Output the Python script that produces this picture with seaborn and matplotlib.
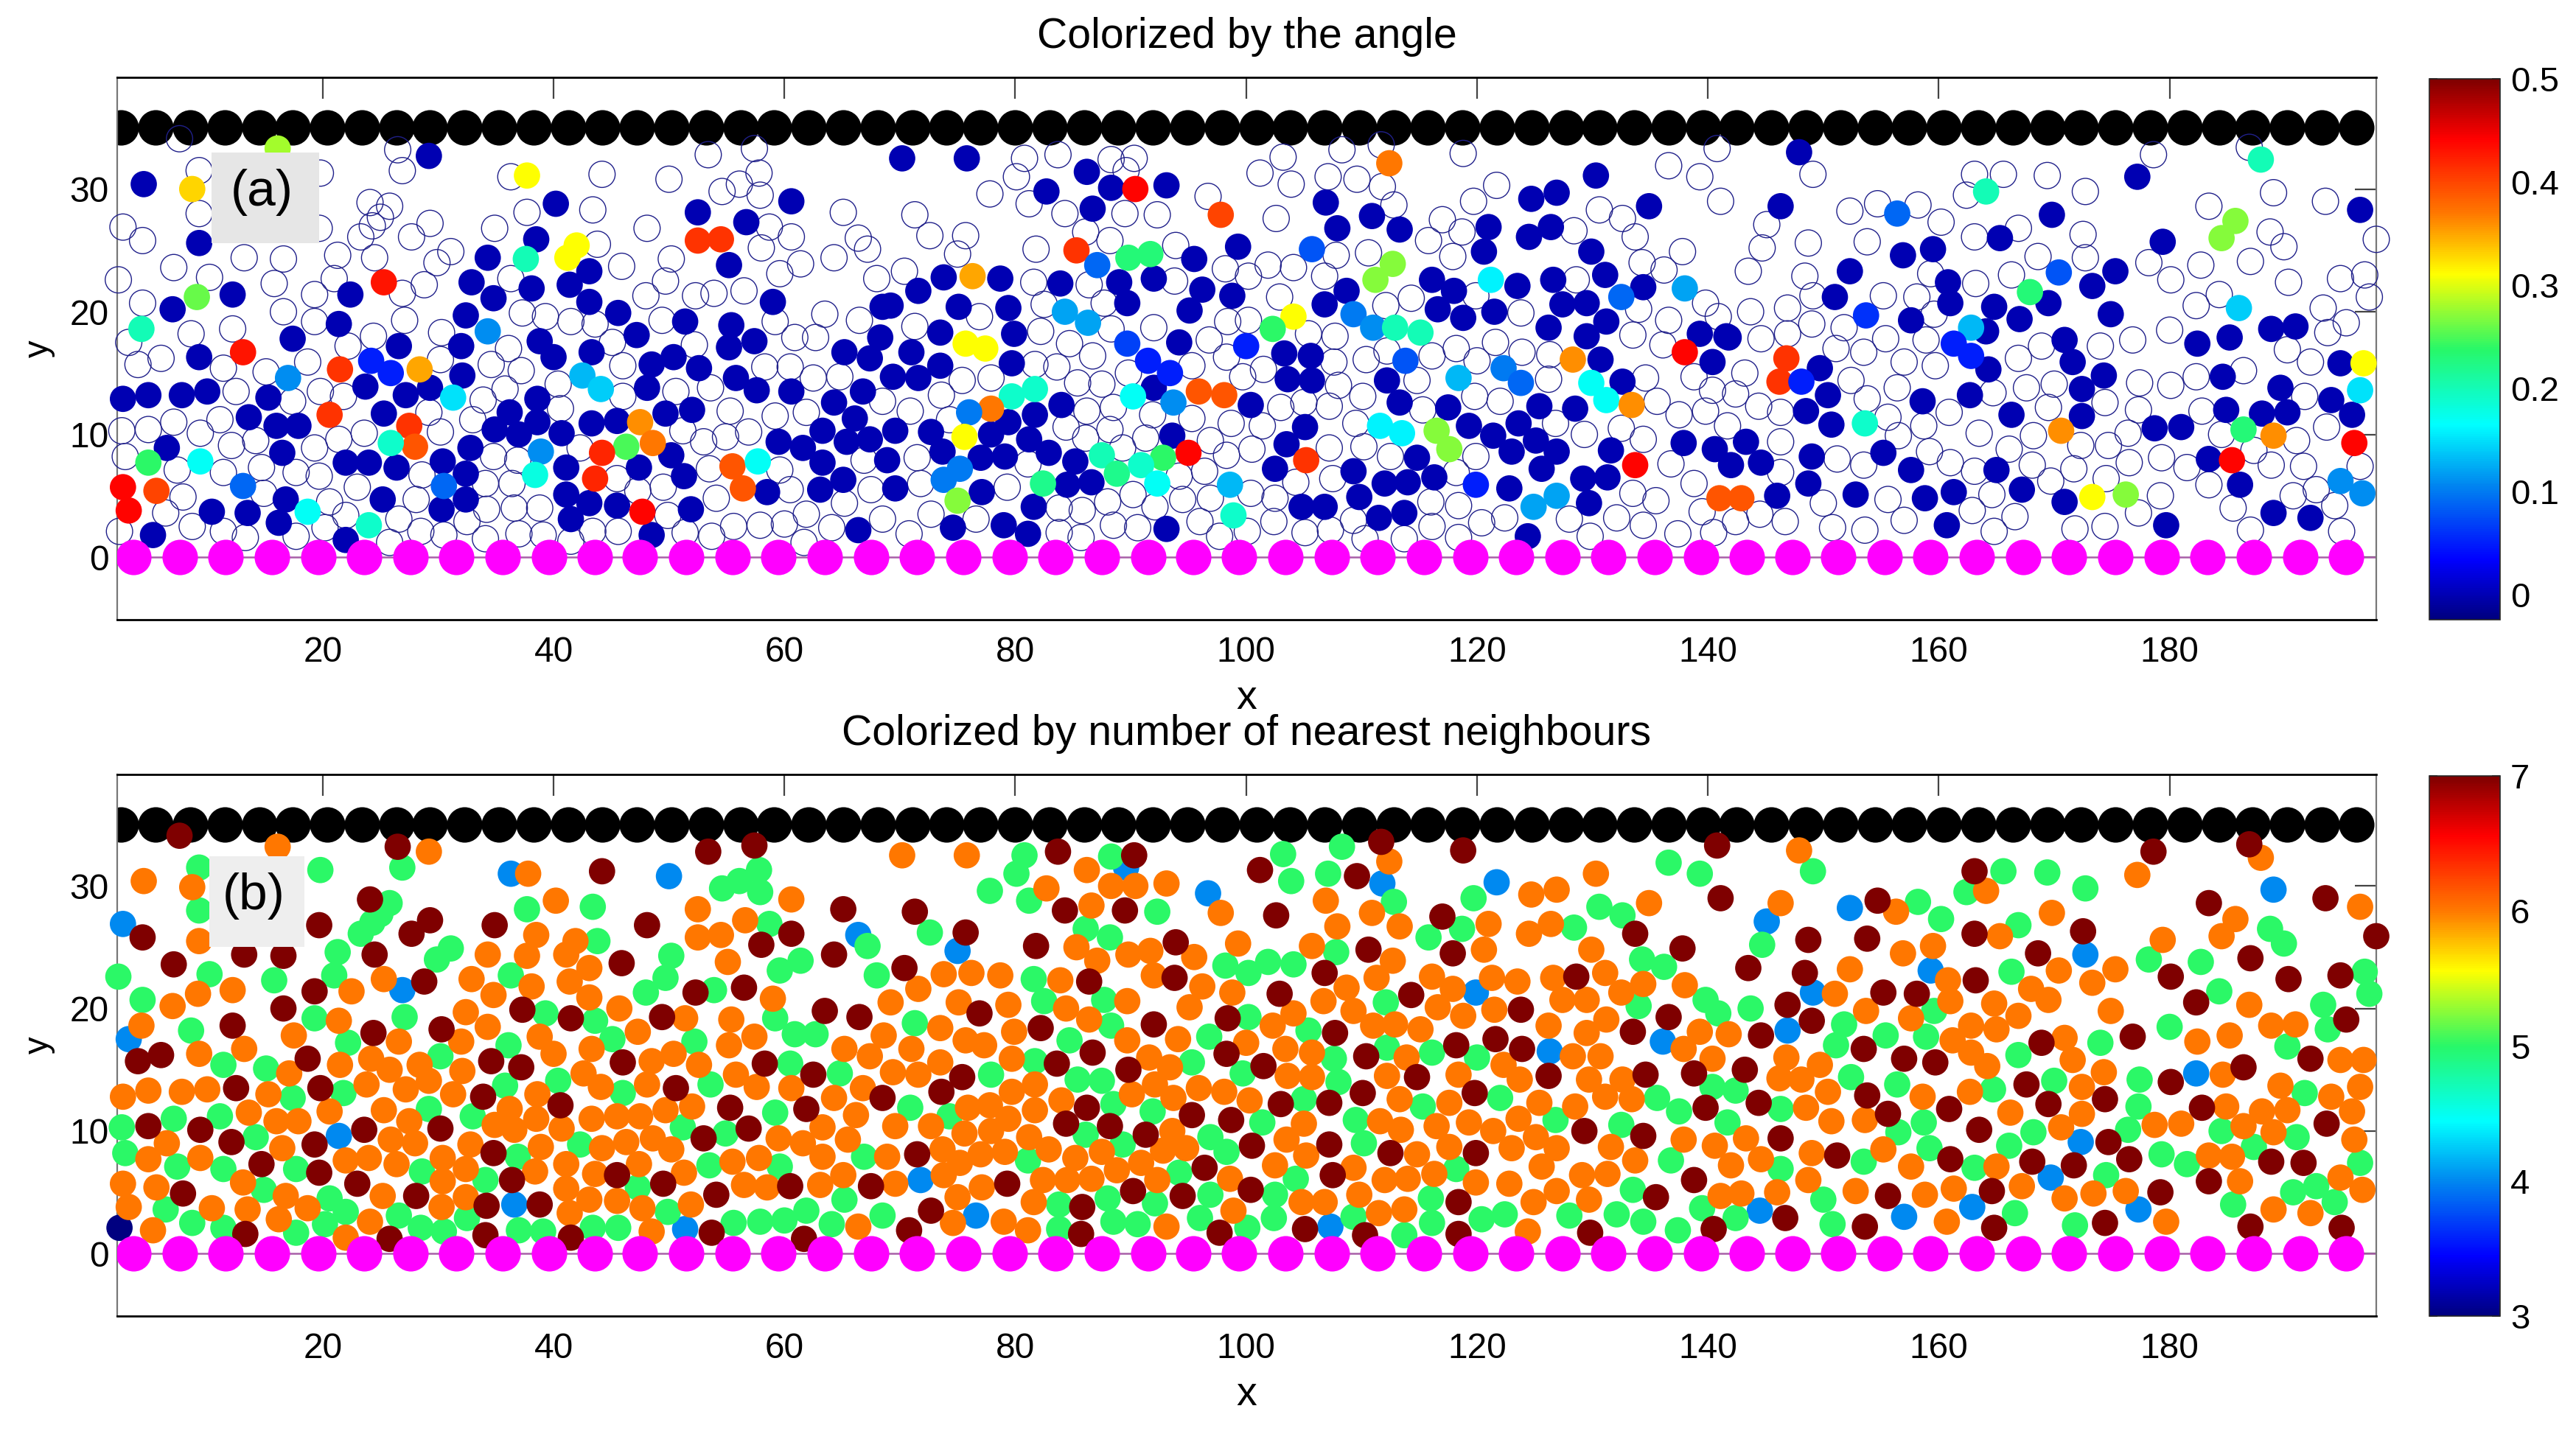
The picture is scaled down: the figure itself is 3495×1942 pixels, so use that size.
import numpy as np
import pandas as pd
import seaborn as sns
import matplotlib.pyplot as plt
from matplotlib.cm import ScalarMappable
from matplotlib.colors import LinearSegmentedColormap, Normalize
from matplotlib.patches import Rectangle

sns.set_theme(style="white")
plt.rcParams['font.family'] = ['Liberation Sans', 'DejaVu Sans']
plt.rcParams['text.color'] = 'black'
plt.rcParams['axes.labelcolor'] = 'black'
plt.rcParams['xtick.labelcolor'] = 'black'
plt.rcParams['ytick.labelcolor'] = 'black'

# fixed walls
wall_top_x = [2.5, 5.5, 8.5, 11.5, 14.5, 17.4, 20.4, 23.4, 26.4, 29.3, 32.3, 35.3, 38.3, 41.3, 44.2, 47.2, 50.2,
              53.2, 56.2, 59.1, 62.1, 65.1, 68.1, 71.1, 74.0, 77.0, 80.0, 83.0, 86.0, 88.9, 91.9, 94.9, 97.9,
              100.9, 103.8, 106.8, 109.8, 112.8, 115.7, 118.7, 121.7, 124.7, 127.7, 130.6, 133.6, 136.6, 139.6,
              142.5, 145.5, 148.5, 151.5, 154.5, 157.4, 160.4, 163.4, 166.4, 169.4, 172.3, 175.3, 178.3, 181.3,
              184.3, 187.2, 190.2, 193.2, 196.2]
wall_bottom_x = [3.6, 7.6, 11.6, 15.6, 19.6, 23.6, 27.6, 31.6, 35.6, 39.6, 43.6, 47.5, 51.5, 55.5, 59.5, 63.5, 67.5,
                 71.5, 75.5, 79.5, 83.5, 87.5, 91.5, 95.4, 99.4, 103.4, 107.4, 111.4, 115.4, 119.4, 123.4, 127.4,
                 131.4, 135.4, 139.4, 143.4, 147.3, 151.3, 155.3, 159.3, 163.3, 167.3, 171.3, 175.3, 179.3, 183.3,
                 187.3, 191.3, 195.3]

# particles by number of nearest neighbours (lower panel)
n3_xy = [(2.4, 2.1)]
n4_xy = [(2.7, 26.9), (36.3, 31), (50, 30.8), (66.4, 26), (26.9, 21.5), (3.2, 17.5), (21.4, 9.6), (36.6, 4), (51.4, 2),
         (89.6, 31.5), (96.7, 29.4), (111.8, 30.2), (121.7, 30.3), (75, 24.7), (119.9, 21.3), (126.3, 16.5),
         (136.1, 17.3), (71.8, 6), (76.6, 3.1), (107.3, 2.2), (145.1, 27.1), (152.3, 28.2), (159.3, 23.1),
         (149.1, 21.3), (146.9, 18.2), (172.7, 24.4), (189, 29.7), (182.3, 14.7), (172.3, 9.1), (169.7, 6.2),
         (162.9, 3.8), (177.3, 3.6), (144.5, 3.5), (157, 3)]
n5_xy = [(9.3, 31.5), (19.8, 31.3), (26.9, 31.5), (9.3, 28), (37.7, 28.1), (43.4, 28.3), (57.8, 31.3), (57.9, 29.5),
         (56.1, 30.4), (54.6, 29.8), (25.8, 28.6), (25, 27.7), (24.3, 27), (23.3, 26.1), (58.7, 26.9), (43.8, 25.5),
         (67.2, 25.1), (50.2, 24.3), (31.1, 24.9), (29.9, 24), (21.3, 24.6), (21, 22.7), (10.2, 22.8), (15.8, 22.3),
         (2.3, 22.6), (61.4, 23.9), (59.6, 23.1), (49.7, 22.5), (48, 21.3), (36.3, 22.7), (53.9, 21.5), (68, 22.7),
         (4.4, 20.7), (39.3, 19.6), (43.6, 19), (27.1, 19.3), (19.3, 19.2), (59.2, 19.2), (60.9, 17.9), (62.7, 17.9),
         (8.6, 18.2), (22.2, 17.2), (45.1, 17.5), (36.1, 17), (52.2, 17.3), (30.2, 16.1), (11.4, 15.4), (15.1, 15.1),
         (60.5, 15.5), (64.8, 14.7), (40.4, 14.1), (35.8, 13.7), (53.6, 13.8), (21.8, 13.1), (46, 13.1), (17.4, 12.7),
         (29.2, 11.8), (7.1, 11), (11.1, 11.2), (33, 11.2), (59.2, 11.5), (2.6, 10.3), (51.2, 10.3), (14.2, 9.5),
         (54.9, 9.8), (42.3, 8.9), (2.9, 8.2), (36.9, 7.9), (66.9, 7.9), (7.4, 7.1), (11.4, 6.9), (17.7, 6.9),
         (53.5, 7.2), (59.6, 7.1), (28.6, 6.7), (34.1, 6), (47.3, 5.4), (14.9, 5.2), (65.2, 4.4), (20.6, 4.5),
         (6.4, 3.6), (22, 3.4), (49.9, 3.4), (55.6, 2.5), (8.7, 2.5), (57.9, 2.6), (60, 2.7), (61.9, 3.5), (26.6, 3.1),
         (32.5, 2.9), (43.4, 2.1), (11.4, 2.1), (45.6, 2.1), (20.2, 2.4), (64.1, 2.4), (28.5, 2.1), (17.7, 1.7),
         (30.5, 1.8), (37, 1.9), (39.1, 1.8), (68.5, 3.1),
         (80.8, 32.5), (80.1, 31), (77.8, 29.6), (81.2, 28.8), (88.3, 32.4), (103.2, 32.6), (108.3, 33.2), (107.1, 31),
         (103.9, 30.4), (112.8, 28.7), (119.7, 29), (92.3, 27.9), (136.6, 31.9), (139.3, 31), (130.6, 28.3),
         (132.6, 27.6), (86.1, 26.5), (88.2, 25.8), (118.7, 26.5), (115.8, 25.8), (128.4, 26.6), (72.6, 26.2),
         (107.8, 24.6), (134.3, 24), (136.2, 23.4), (98.2, 23.5), (100.2, 22.9), (101.9, 23.8), (104.1, 23.6),
         (81.6, 22.4), (87.7, 20.7), (82.5, 20.6), (112.1, 20.5), (71.3, 18.8), (134, 20.2), (139.8, 20.7),
         (140.9, 19.6), (100.2, 19.3), (88.3, 18.6), (96.8, 17.7), (105.4, 18.2), (84.7, 17.4), (112.2, 16.8),
         (107.6, 15.9), (116.1, 16.4), (120, 16), (95.3, 15.6), (81.7, 15.7), (99.7, 14.7), (77.9, 14.6), (85.4, 14.2),
         (87.5, 14.1), (108, 14), (122, 12.7), (135.6, 12.7), (140.4, 13.6), (105, 12.6), (70.9, 11.9), (88.5, 12.2),
         (115.3, 12), (137.5, 11.6), (91.9, 11.6), (74.3, 11.2), (101.4, 10.7), (109.5, 10.9), (132.5, 10.5),
         (126.8, 10.9), (86.1, 9.7), (96.9, 9.5), (110.2, 9), (89.3, 8.9), (98.3, 8.3), (81.1, 7.6), (118.2, 6.9),
         (136.8, 7.6), (94.2, 6.6), (104.3, 6.1), (133.5, 5.2), (116, 4.5), (102.5, 4.8), (88, 4.5), (96.9, 4.8),
         (92.1, 4.1), (83.8, 4), (139.5, 3.7), (128, 3.1), (122.4, 3.2), (132.1, 3.2), (109.3, 3), (102.4, 2.9),
         (96, 2.9), (116.1, 2.5), (120.4, 2.8), (134.4, 2.6), (88.5, 2.6), (90.6, 2.4), (100.1, 2.1), (137.4, 1.9),
         (83.8, 2), (113.7, 1.5),
         (149.1, 31.2), (144.7, 25.2), (158.2, 28.7), (160.2, 27.3), (162.4, 29.5), (165.6, 31.2), (169.4, 31.1),
         (172.7, 29.8), (166.9, 26.8), (188.7, 26.5), (189.9, 25.3), (178.2, 24), (182.7, 23.8), (166.3, 23),
         (196.9, 23), (197.3, 21.2), (184.3, 21.4), (193.3, 20.3), (143.7, 20), (151.8, 18.7), (180, 18.5),
         (193.7, 18.3), (155.4, 17.8), (158.9, 17.7), (174, 17.2), (151.1, 17), (159.6, 19.8), (190.2, 16.9),
         (166.9, 16.2), (152.4, 14.4), (170, 14.1), (156.4, 13.8), (177.4, 14.2), (191.7, 13.1), (164.7, 13.4),
         (142.4, 13.3), (146.3, 11.8), (177.3, 12), (141.7, 10.7), (158.7, 10.7), (156.5, 9.9), (176.4, 10.1),
         (168.2, 9.9), (184.5, 10), (191, 9.5), (159.2, 8.6), (166.1, 8.8), (187.3, 8.7), (153.5, 7.5), (179.3, 8.1),
         (181.5, 7.3), (196.5, 7.4), (163.1, 7), (146.3, 6.9), (174.5, 6.4), (192.7, 5.5), (190.7, 5), (194.3, 4.2),
         (150, 4.4), (185.5, 4), (166.6, 3.3), (142.4, 2.9), (150.8, 2.4), (171.8, 2.3)]
n6_xy = [(16.1, 33.2), (29.2, 32.8), (37.8, 31), (4.5, 30.4), (8.7, 29.9), (40.2, 28.8), (52.5, 28.1), (60.6, 28.9),
         (56.6, 27.2), (38.5, 26), (9.3, 25.5), (41.9, 25.5), (52.5, 25.8), (54.5, 26), (37.7, 24.3), (41.1, 24.4),
         (34.3, 24.4), (43.1, 23.3), (55.1, 23.8), (25.3, 22.4), (32.9, 22.4), (41.4, 22.2), (38.1, 21.8), (12.2, 21.5),
         (22.5, 21.4), (9.2, 21.2), (34.8, 21.1), (59, 20.8), (43.1, 20.9), (7, 20.2), (32.4, 19.7), (45.7, 20),
         (51.4, 19.2), (21.4, 19), (55.4, 19.1), (4.3, 18.6), (34.3, 18.5), (47.3, 18.1), (57.4, 17.7), (17.5, 17.8),
         (26.6, 17.3), (32, 17.3), (38.8, 17.7), (55.2, 17), (43.3, 16.7), (40, 16.3), (13.2, 16.7), (65.2, 16.7),
         (50.4, 16.3), (9.3, 16.3), (24.2, 15.9), (21.5, 15.4), (48.5, 15.7), (67.4, 16.1), (28.4, 15.4), (25.8, 15),
         (52.6, 15.4), (32.1, 14.9), (42.6, 14.7), (55.8, 14.6), (17.1, 14.7), (29.2, 14.1), (23.8, 13.8), (44.1, 13.6),
         (48.1, 13.8), (4.9, 13.3), (7.8, 13.2), (10, 13.4), (57.6, 13.6), (60.6, 13.5), (2.7, 12.8), (15.3, 13),
         (27.2, 13.4), (31.3, 13), (38.6, 13), (66.8, 13.5), (64.3, 12.7), (52, 12), (49.7, 11.7), (20.6, 11.6),
         (25.3, 11.7), (36.2, 11.8), (13.6, 11.5), (27.5, 10.8), (16, 10.8), (17.9, 10.8), (43.3, 11), (45.5, 11.2),
         (47.5, 11.2), (38.5, 11), (34.9, 10.5), (66.2, 11.3), (40.7, 10.2), (63.3, 10.3), (36.6, 10.1), (25.9, 9.3),
         (48.6, 9.4), (59.5, 9.4), (65.5, 9.3), (6.5, 9), (32.8, 8.9), (28, 9), (38.9, 8.7), (46.3, 9.1), (44.2, 8.6),
         (50.2, 8.5), (61.6, 9), (16.5, 8.6), (9.4, 7.8), (4.9, 7.7), (30.4, 7.8), (24, 7.8), (22, 7.6), (63.3, 7.9),
         (57.8, 7.8), (55.5, 7.5), (26.4, 7.3), (41.1, 7.3), (47.4, 7.3), (32.4, 6.9), (51.3, 6.6), (38.4, 6.7),
         (43.6, 6.5), (65.1, 6.4), (13.1, 5.8), (2.7, 5.7), (5.6, 5.4), (30.4, 5.9), (41.1, 5.3), (63.1, 5.6),
         (56.5, 5.6), (58.5, 5.4), (25.2, 4.7), (16.8, 4.7), (43.1, 4.4), (45.5, 4.3), (32.4, 4.6), (3.2, 3.8),
         (10.4, 3.7), (30.3, 3.8), (51.9, 4), (18.7, 3.7), (13.5, 3.6), (47.7, 3.7), (41.4, 3.3), (16.2, 2.8),
         (24.1, 2.6), (5.3, 1.9), (66.4, 2.2), (48.5, 1.8), (22, 1.3),
         (70.2, 32.5), (75.8, 32.5), (86.2, 31.3), (82.7, 29.8), (93.1, 30.2), (88.3, 30), (90.4, 30), (112.4, 32),
         (130.3, 31), (126.9, 29.7), (124.7, 29.3), (134.9, 28.6), (86.6, 28.4), (97.8, 27.8), (106.9, 28.8),
         (110.9, 27.8), (121, 26.9), (126.4, 26.9), (107.9, 26.7), (113.3, 26.7), (124.5, 26.1), (99.3, 25.3),
         (85.3, 25), (105.7, 25.1), (89.8, 24.4), (91.7, 24.7), (120.6, 24.8), (129.9, 24.8), (95.5, 24.2), (87.1, 23.9),
         (112.7, 23.9), (73.8, 22.8), (76.2, 22.9), (78.7, 22.7), (83.9, 22.3), (92, 22.7), (111.3, 22.5), (116.1, 22.6),
         (121.3, 22.5), (123.5, 22.2), (126.6, 22.5), (131.1, 22.9), (134.4, 22), (138, 21.9), (71.6, 21.6), (96.2, 21.8),
         (108.7, 21.7), (117.9, 21.6), (132.5, 21.3), (69.2, 20.5), (75.1, 20.5), (89.7, 20.6), (98.8, 21.3), (79.4, 20.3),
         (106.7, 20.6), (95.1, 20.1), (127.4, 20.7), (129.5, 20.7), (84.4, 20), (109.3, 19.8), (116.6, 20.1), (121.5, 19.9),
         (104.1, 19.6), (86.4, 19.1), (118.8, 19.4), (102.3, 18.6), (131.2, 19.1), (126.2, 18.6), (111, 18.6), (112.9, 18.7),
         (115.1, 18.3), (73.5, 18.4), (79.9, 18.1), (68.6, 17.8), (129.5, 18), (139.3, 18.1), (75.7, 17.4), (77.3, 17),
         (89.7, 17.4), (94.1, 17.5), (100, 17.2), (71, 16.7), (103.4, 16.7), (105.7, 16.4), (137.9, 16.7), (79.7, 15.9),
         (91.6, 16), (113.9, 16), (130.7, 16.1), (128.3, 16.1), (140.4, 15.9), (122.3, 15.4), (73.5, 15.6), (93.4, 15.2),
         (69.4, 14.8), (71.6, 14.6), (103.6, 14.5), (105.7, 14.4), (112.2, 14.5), (118.4, 14.6), (123.7, 14.2),
         (129.7, 14.2), (132.6, 14.2), (81.7, 13.8), (79.7, 13.2), (90.1, 13), (92.1, 13.8), (95.9, 13.5), (98.1, 13.2),
         (93.7, 12.7), (100.3, 12.5), (131.1, 12.8), (133.4, 12.6), (113.3, 12.6), (117.6, 12.3), (125.4, 12.3), (84, 12.5),
         (128.5, 12), (75.9, 11.9), (77.8, 12.1), (81.7, 11.7), (79.4, 11), (105, 10.6), (111.6, 10.8), (119.3, 10.7),
         (123.6, 11), (113.4, 10.1), (116.5, 10.4), (72.7, 10.4), (69.6, 10.4), (75.6, 9.8), (77.9, 10), (121.4, 10),
         (93.6, 10), (125.1, 9.5), (81.2, 9.5), (103.5, 9.3), (137.9, 9.3), (140.6, 8.8), (131.6, 8.7), (92.8, 8.4),
         (94.8, 8.6), (117.6, 8.7), (82.9, 8.5), (73.7, 8.5), (79.1, 8.3), (77, 8.1), (114.8, 8.1), (123, 8.6), (126.9, 8.6),
         (87.5, 8.3), (85.2, 7.8), (105.2, 8), (68.9, 7.9), (75.2, 7.4), (90.9, 7.4), (102.5, 7.2), (133.7, 7.6), (125.6, 7.1),
         (109.3, 7), (73.8, 6.4), (131.3, 6.5), (129.1, 6.4), (116.3, 6.5), (88.8, 6.8), (86.6, 6.1), (84.5, 6), (82.4, 6),
         (92.3, 6), (98.6, 6.1), (112, 6), (114, 6.1), (69.6, 5.7), (119.9, 5.8), (122.8, 5.7), (77.1, 5.4), (126.9, 5.1),
         (75, 4.6), (109.8, 4.8), (129.7, 4.4), (141.1, 4.7), (81.6, 4.2), (104.8, 4.2), (106.8, 4.2), (98.9, 3.5),
         (124.9, 4.2), (111.5, 3.3), (113.7, 3.6), (74.6, 2.5), (79, 2.6), (81.1, 1.9), (93.1, 2.2), (124.4, 1.8),
         (147.9, 32.9), (187.9, 32.3), (177.2, 30.9), (164.1, 29.6), (146.3, 28.6), (196.5, 28.3), (156.3, 27.9),
         (169.8, 27.8), (185.7, 27.3), (184.5, 25.9), (179.4, 25.6), (165.3, 25.9), (159.5, 25.1), (156.9, 24.5),
         (152.3, 23.2), (170.4, 23.1), (175.3, 23.2), (173.3, 22.1), (160.8, 22.3), (151, 21.2), (168, 21.6), (169.5, 20.7),
         (164.8, 20.4), (161, 20.6), (186.9, 20.3), (153.7, 19.8), (174.9, 19.8), (157.6, 19.2), (166.9, 19.4), (188.8, 18.6),
         (190.9, 18.7), (162.8, 18.6), (165, 18.3), (141.8, 17.9), (185.2, 17.8), (182.4, 17.3), (161.2, 17.4), (170.9, 17.6),
         (162.8, 16.4), (146.8, 16), (171.6, 15.8), (164.2, 15.3), (149.7, 15.4), (194.8, 15.8), (196.8, 15.8), (174.3, 14.8),
         (146.2, 14.3), (148.1, 14.2), (184.6, 14.6), (189.6, 13.7), (172.4, 13.6), (196.5, 13.6), (150.4, 13.2), (158.6, 12.8),
         (162.7, 13.2), (194, 12.8), (148.5, 11.9), (184.9, 12), (166.2, 11.5), (188, 11.6), (190.2, 11.7), (172.4, 11.4),
         (195.8, 11.6), (150.7, 10.8), (153.6, 10.9), (170.6, 10.3), (178.7, 10.5), (181, 10.6), (186.4, 10.4), (189, 9.9),
         (143.3, 9.4), (196, 9.3), (155.2, 8.5), (149, 8.2), (142, 7.2), (144.6, 7.7), (183.4, 8), (185.4, 7.9), (157.6, 7.1),
         (165, 7.1), (148.7, 6), (186.1, 5.9), (194.8, 6.2), (196.7, 5.2), (167.2, 5.5), (161.3, 5.3), (152.8, 5.1), (146, 5),
         (176.2, 5.1), (173.4, 4.9), (142.9, 4.9), (158.8, 4.8), (170.9, 4.5), (189, 3.6), (192.2, 3.3), (160.7, 2.6), (179.7, 2.6)]
n7_xy = [(7.6, 34.1), (26.5, 33.2), (53.4, 32.8), (57.4, 33.3), (44.2, 31.2), (24.1, 28.9), (65.1, 28.1), (19.7, 26.8),
         (4.4, 25.8), (29.3, 27.2), (27.7, 26.1), (34.9, 26.8), (48.1, 26.8), (60.6, 26.1), (58, 25.2), (13.2, 24.4),
         (16.6, 24.3), (24.5, 24.4), (7.1, 23.6), (45.9, 23.7), (64.3, 24.4), (28.8, 22.2), (19.3, 21.4), (52.3, 21.3),
         (56.5, 21.7), (16.6, 20), (37.3, 19.9), (41.5, 19.2), (49.4, 19.3), (63.5, 19.8), (66.5, 19.3), (12.2, 18.6),
         (24.4, 18), (30.3, 18.3), (4, 15.7), (6, 16.2), (18.7, 15.9), (34.6, 15.7), (37.2, 15.2), (46, 15.6), (58.3, 15.5),
         (62.5, 14.6), (12.5, 13.5), (19.8, 13.5), (50.6, 13.5), (33.9, 12.8), (40.6, 12.1), (55.3, 11.9), (61.9, 11.8),
         (68.5, 12.7), (4.9, 10.4), (9.4, 10.1), (30.2, 10.2), (23.6, 10.1), (56.9, 10.2), (12.1, 9.1), (19.3, 8.9), (53, 9.4),
         (34.8, 8.2), (14.7, 7.3), (19.7, 6.6), (45.5, 6.4), (23, 5.7), (36.4, 6), (49.5, 5.7), (60.5, 5.5), (67.5, 5.5),
         (7.9, 4.9), (54.1, 4.8), (28.1, 4.7), (34.2, 3.9), (38.8, 4), (13.3, 1.6), (25.8, 1.2), (34.1, 1.5), (41.5, 1.3),
         (53.7, 1.7), (61.7, 1.2),
         (83.7, 32.8), (90.3, 32.5), (101.2, 31.3), (111.7, 33.6), (109.6, 30.8), (118.8, 32.9), (84.3, 28), (89.5, 28),
         (71.3, 27.9), (102.6, 27.6), (117, 27.5), (75.7, 26.2), (93.9, 25.4), (81.8, 25.1), (110.6, 24.8), (117.9, 24.5),
         (133.7, 26.1), (137.8, 24.9), (140.8, 33.3), (141.1, 29), (70.4, 23.3), (106.8, 22.9), (86.4, 22.2), (93.8, 22.5),
         (128.6, 22.6), (102.9, 21.2), (114.3, 21.1), (76.9, 19.6), (98.4, 19.2), (123.8, 19.9), (136.6, 19.3), (92, 18.7),
         (82.2, 18.4), (107.7, 18), (133.5, 18.1), (121.6, 17.5), (86.7, 16.4), (118.2, 17), (123.9, 16.7), (98.3, 16.3),
         (110.4, 16.1), (83.6, 15.5), (101.5, 15.3), (89.8, 15), (114.8, 14.4), (126.2, 14.5), (134.6, 14.6), (138.8, 14.7),
         (75.4, 14.4), (73.6, 13.2), (110.1, 13.1), (119.8, 13.1), (107.2, 12.3), (103, 12.2), (86.2, 11.9), (139.8, 11.9),
         (95.3, 11.3), (98.7, 10.9), (84.4, 10.6), (88.2, 10.4), (91.3, 9.7), (129.3, 10), (134.4, 9.6), (107.2, 8.9),
         (100.5, 8.8), (112.5, 8.2), (119.9, 8.2), (71.5, 8.1), (96.4, 7), (107.5, 6.4), (79.3, 5.7), (90.2, 5.1), (100.4, 5.2),
         (138.8, 6), (135.5, 4.6), (94.5, 4.7), (118.4, 4.2), (72.7, 3.5), (85.8, 3.8), (70.8, 1.9), (97.7, 1.7), (105.1, 2),
         (110.3, 1.5), (118.4, 1.6), (129.8, 1.7), (85.7, 1.6), (140.5, 2),
         (148.7, 25.6), (153.8, 25.7), (154.7, 28.8), (163.1, 31.2), (163.1, 26.1), (172.5, 26.3), (168.6, 24.5), (143.5, 23.3),
         (148.4, 22.9), (163.2, 22.3), (180.1, 22.6), (187, 24.1), (190.3, 22.4), (194.8, 22.7), (197.9, 25.9), (178.6, 32.8),
         (186.9, 33.4), (183.4, 28.6), (193.5, 29), (155.2, 21.3), (158.1, 21.2), (146.9, 20.3), (182.3, 20.5), (149, 19),
         (195.3, 19.1), (144.6, 17.8), (153.5, 16.7), (168.9, 17.2), (176.8, 17.7), (157, 15.9), (159.7, 15.6), (192.2, 15.9),
         (143.2, 15), (186.4, 15.2), (180.1, 14), (167.6, 13.8), (153.8, 12.9), (169.5, 12.2), (144.4, 12.3), (174.4, 12.6),
         (182.8, 11.9), (155.6, 11.4), (160.9, 11.8), (163.5, 10.1), (193.6, 10.6), (146.3, 9.4), (174.7, 9.1), (151.2, 8),
         (161, 7.7), (168.1, 7.5), (171.7, 7.2), (176.5, 7.7), (188.8, 7.5), (191.6, 7.4), (183.4, 5.9), (164.6, 5.1),
         (155.6, 4.7), (179.2, 5), (146.7, 2.9), (174.4, 2.5), (153.6, 2.2), (164.8, 2.1), (187, 2.2), (194.9, 2.1)]

# particles with angle close to 0 (upper panel, dark blue)
angle0_xy = [(29.2, 32.7), (4.5, 30.4), (40.2, 28.8), (60.6, 29), (52.5, 28.1), (56.7, 27.3), (38.5, 25.9), (9.3, 25.6),
             (34.3, 24.4), (43.1, 23.3), (55.2, 23.8), (32.9, 22.4), (41.4, 22.2), (38.1, 21.9), (12.2, 21.4), (22.4, 21.4),
             (34.8, 21.1), (43.1, 20.8), (59, 20.8), (7, 20.2), (32.4, 19.7), (45.6, 19.9), (51.4, 19.2), (21.4, 19),
             (55.4, 18.9), (68.5, 20.4), (17.4, 17.8), (26.6, 17.2), (32, 17.2), (38.8, 17.6), (55.2, 17.1), (47.2, 18.1),
             (57.4, 17.6), (68.3, 17.9), (43.3, 16.7), (40, 16.3), (9.3, 16.3), (65.2, 16.7), (50.4, 16.3), (48.5, 15.7),
             (67.4, 16.2), (52.6, 15.4), (32.1, 14.8), (55.8, 14.6), (48.1, 13.8), (23.7, 13.9), (29.3, 13.8), (57.6, 13.6),
             (60.6, 13.5), (2.7, 12.9), (4.9, 13.2), (7.8, 13.2), (10, 13.5), (15.3, 13), (27.2, 13.2), (38.6, 12.9),
             (66.8, 13.5), (64.3, 12.6), (52, 12), (49.7, 11.7), (25.3, 11.7), (36.2, 11.8), (13.6, 11.4), (16, 10.7),
             (17.9, 10.7), (43.3, 10.9), (45.5, 11.1), (38.6, 11), (34.9, 10.4), (66.1, 11.3), (37, 10), (40.7, 10.1),
             (63.3, 10.3), (32.8, 8.9), (6.5, 8.9), (59.5, 9.4), (65.4, 9.4), (67.4, 9.6), (61.6, 8.9), (16.5, 8.5),
             (50.2, 8.3), (30.4, 7.8), (24, 7.7), (22, 7.7), (63.3, 7.7), (26.4, 7.3), (41.1, 7.3), (47.4, 7.3), (32.4, 6.8),
             (51.3, 6.6), (65.1, 6.3), (63.1, 5.5), (58.5, 5.3), (41.1, 5.1), (25.2, 4.7), (16.8, 4.7), (43.1, 4.4), (45.5, 4.2),
             (32.4, 4.7), (10.4, 3.7), (30.3, 3.9), (51.9, 3.9), (13.5, 3.6), (41.5, 3.1), (16.2, 2.8), (5.3, 1.8), (66.4, 2.2),
             (48.5, 1.8), (22, 1.4),
             (70.2, 32.5), (75.8, 32.5), (86.2, 31.4), (82.7, 29.8), (93.1, 30.3), (88.3, 30.1), (86.7, 28.4), (106.9, 28.9),
             (130.3, 31.1), (126.9, 29.7), (124.7, 29.2), (134.9, 28.6), (110.9, 27.8), (107.9, 26.8), (113.3, 26.7), (121, 26.9),
             (126.4, 26.9), (124.5, 26.1), (99.3, 25.3), (120.6, 24.9), (129.9, 24.9), (95.5, 24.3), (73.8, 22.8), (78.7, 22.7),
             (83.9, 22.3), (89, 22.4), (92, 22.7), (116.1, 22.6), (118, 21.7), (123.5, 22.1), (126.6, 22.6), (131.1, 23),
             (134.4, 22), (71.6, 21.7), (96.2, 21.8), (108.7, 21.7), (98.8, 21.3), (69.2, 20.5), (75.1, 20.4), (79.4, 20.3),
             (89.7, 20.7), (106.8, 20.6), (95.1, 20.1), (116.6, 20.2), (121.5, 20), (127.4, 20.6), (129.5, 20.7), (118.8, 19.5),
             (131.2, 19.2), (126.2, 18.7), (73.5, 18.3), (79.9, 18.2), (129.5, 18), (139.3, 18.2), (141.6, 18), (71, 16.7),
             (79.7, 15.8), (94.2, 17.5), (103.3, 16.6), (105.6, 16.4), (130.7, 16.1), (140.4, 15.9), (73.5, 15.6), (69.4, 14.7),
             (71.6, 14.6), (103.6, 14.5), (105.7, 14.4), (112.2, 14.4), (132.6, 14.3), (92, 13.8), (100.4, 12.4), (84, 12.4),
             (113.3, 12.6), (117.5, 12.2), (125.4, 12.3), (128.5, 12.1), (81.7, 11.6), (79.4, 11), (105.1, 10.6), (119.3, 10.7),
             (123.6, 10.9), (72.7, 10.2), (69.6, 10.3), (93.6, 9.9), (121.4, 9.9), (125.1, 9.5), (81.2, 9.6), (77.9, 10),
             (103.5, 9.2), (137.9, 9.3), (140.6, 8.8), (131.6, 8.7), (82.9, 8.5), (73.7, 8.6), (77, 8.1), (79.1, 8.2), (123, 8.6),
             (126.9, 8.6), (114.8, 8.1), (85.2, 7.8), (68.9, 7.9), (102.5, 7.2), (125.6, 7.2), (109.3, 7), (131.3, 6.5),
             (129.2, 6.4), (116.3, 6.5), (86.6, 6.1), (84.5, 5.9), (112, 6), (114, 6.1), (69.6, 5.6), (122.8, 5.6), (77.1, 5.3),
             (109.8, 4.9), (129.7, 4.4), (81.6, 4.1), (104.8, 4.1), (106.8, 4.1), (111.5, 3.2), (113.7, 3.6), (74.6, 2.4), (79, 2.6),
             (81.1, 1.9), (93.1, 2.3), (124.4, 1.7),
             (147.9, 33), (177.2, 31), (146.3, 28.6), (196.5, 28.3), (169.8, 27.9), (165.3, 26), (179.4, 25.7), (159.5, 25.1),
             (156.9, 24.6), (152.3, 23.3), (175.3, 23.3), (160.8, 22.4), (173.3, 22.1), (151, 21.2), (161, 20.7), (164.8, 20.4),
             (169.5, 20.7), (174.9, 19.8), (157.6, 19.3), (167, 19.4), (188.8, 18.6), (190.9, 18.8), (141.8, 17.9), (185.2, 17.9),
             (182.4, 17.4), (170.9, 17.7), (164.1, 18.4), (171.6, 15.9), (194.8, 15.8), (149.7, 15.4), (174.3, 14.8), (164.3, 15.3),
             (184.6, 14.7), (172.4, 13.7), (150.4, 13.2), (158.6, 12.7), (162.7, 13.2), (189.6, 13.8), (194, 12.8), (148.5, 11.9),
             (184.9, 12), (166.3, 11.6), (188, 11.7), (190.2, 11.8), (172.4, 11.5), (195.8, 11.6), (150.7, 10.8), (178.7, 10.5),
             (181, 10.6), (143.3, 9.4), (155.2, 8.5), (149, 8.2), (142, 7.5), (144.6, 7.7), (183.4, 8), (157.6, 7.1), (165, 7.1),
             (148.7, 6), (186.1, 5.9), (167.2, 5.5), (161.3, 5.3), (152.8, 5.1), (146, 5), (158.8, 4.8), (170.9, 4.5), (189, 3.6),
             (192.2, 3.2), (160.7, 2.6), (179.7, 2.6)]

# particles with a visible angle: x, y, angle
angle_xyv = [(16.1, 33.3, .28), (8.7, 30, .33), (37.7, 31.1, .31), (42, 25.4, .31), (41.2, 24.4, .31), (37.6, 24.3, .2),
             (52.5, 25.8, .41), (54.5, 25.9, .41), (25.3, 22.4, .43), (9.1, 21.2, .26), (4.3, 18.6, .2), (34.3, 18.4, .11),
             (13.1, 16.7, .43), (28.4, 15.3, .35), (21.5, 15.3, .41), (24.2, 16, .05), (25.9, 15, .05), (17, 14.6, .11),
             (42.5, 14.8, .13), (44.1, 13.7, .14), (31.3, 13, .15), (20.6, 11.6, .41), (27.5, 10.7, .41), (28, 9, .39),
             (25.9, 9.3, .19), (47.5, 11, .36), (48.6, 9.3, .37), (46.3, 9, .25), (44.2, 8.5, .42), (43.6, 6.4, .42),
             (38.9, 8.6, .11), (38.4, 6.7, .18), (9.4, 7.8, .17), (4.9, 7.7, .24), (55.5, 7.4, .39), (57.7, 7.8, .17),
             (56.4, 5.6, .39), (2.7, 5.7, .44), (3.2, 3.8, .44), (5.6, 5.4, .4), (13.1, 5.8, .09), (30.5, 5.8, .09),
             (18.7, 3.7, .17), (24, 2.6, .19), (47.7, 3.7, .44),
             (112.4, 32.1, .37), (90.4, 30, .44), (97.8, 27.9, .4), (85.3, 25, .41), (87.1, 23.8, .09), (89.8, 24.4, .23),
             (91.7, 24.7, .23), (105.7, 25.1, .08), (76.3, 22.9, .35), (112.7, 23.9, .27), (111.2, 22.6, .27), (121.2, 22.6, .16),
             (132.5, 21.2, .09), (138, 21.9, .12), (84.3, 20, .12), (86.3, 19.1, .12), (104.1, 19.6, .31), (102.3, 18.6, .24),
             (109.3, 19.8, .1), (111, 18.7, .11), (112.9, 18.7, .2), (115.1, 18.3, .2), (75.7, 17.4, .31), (77.4, 17, .31),
             (89.7, 17.4, .07), (113.8, 16, .08), (122.3, 15.4, .1), (118.4, 14.6, .13), (123.8, 14.2, .09), (128.3, 16.1, .36),
             (138, 16.7, .44), (79.7, 13.1, .19), (81.7, 13.7, .19), (90.2, 13.1, .17), (129.9, 14.2, .17), (131.2, 12.8, .17),
             (133.4, 12.4, .36), (95.9, 13.5, .39), (98.1, 13.2, .39), (93.7, 12.6, .11), (77.9, 12.1, .37), (76, 11.8, .1),
             (111.6, 10.7, .16), (113.5, 10.1, .16), (116.5, 10.3, .27), (117.6, 8.8, .27), (75.6, 9.8, .31), (95, 8.5, .44),
             (92.8, 8.1, .24), (87.5, 8.3, .2), (88.8, 6.8, .22), (90.9, 7.5, .19), (92.3, 6, .17), (105.2, 7.9, .41),
             (133.7, 7.5, .44), (75.2, 7.2, .1), (73.8, 6.3, .1), (82.4, 6, .22), (75, 4.6, .27), (98.6, 5.9, .13), (98.9, 3.4, .19),
             (126.9, 5, .12), (124.9, 4.1, .12), (100, 17.2, .05), (119.9, 5.9, .05), (91.5, 16, .05), (93.4, 15, .05),
             (187.9, 32.4, .2), (164.1, 29.8, .2), (156.4, 28, .09), (185.7, 27.4, .27), (184.5, 26, .27), (170.4, 23.2, .08),
             (167.9, 21.6, .23), (186, 20.3, .14), (162.8, 18.7, .13), (146.8, 16.2, .41), (146.2, 14.3, .41), (196.8, 15.8, .31),
             (196.5, 13.6, .15), (153.6, 10.9, .19), (170.6, 10.3, .36), (186.4, 10.4, .23), (189, 9.9, .36), (196, 9.3, .44),
             (185.4, 7.9, .44), (194.8, 6.2, .11), (196.7, 5.2, .11), (173.3, 4.9, .31), (176.2, 5.1, .27), (141, 4.8, .39),
             (142.9, 4.8, .39), (161.3, 17.4, .05), (162.8, 16.4, .05), (148.1, 14.3, .05), (153.7, 19.7, .06)]

angle_ticks = [0, 0.1, 0.2, 0.3, 0.4, 0.5]
count_ticks = [3, 4, 5, 6, 7]
x_ticks = [20, 40, 60, 80, 100, 120, 140, 160, 180]
y_ticks = [0, 10, 20, 30]
x_tick_colors = ['#c8c8c8', '#555555', '#222222', '#999999', '#ffffff', '#888888', '#222222', '#666666', '#cccccc']
y_tick_colors = ['#b090b0', '#333333', '#aaaaaa', '#aaaaaa']

W, H = 3495, 1942
jet = LinearSegmentedColormap.from_list('jet_paper', [
    (0.0, '#000080'), (0.11, '#0000ff'), (0.25, '#0088f0'), (0.36, '#00ffff'), (0.5, '#28f868'),
    (0.64, '#ffff00'), (0.75, '#ff7a00'), (0.89, '#ff0000'), (1.0, '#7f0000')])
angle_norm = Normalize(-0.024, 0.5)
count_norm = Normalize(3, 7)
FREE_S = 165
WALL_S = 300


def frame(xy, value):
    df = pd.DataFrame(xy, columns=['x', 'y'])
    df['v'] = value
    return df


def draw_walls(ax):
    ax.axhline(0, color='#a860a8', lw=0.9, zorder=1)
    sns.scatterplot(x=wall_top_x, y=[35] * len(wall_top_x), color='black', s=WALL_S, linewidth=0, ax=ax, zorder=2)


def draw_bottom(ax):
    sns.scatterplot(x=wall_bottom_x, y=[0] * len(wall_bottom_x), color='#ff00ff', s=WALL_S, linewidth=0, ax=ax, zorder=6)


def style_axes(ax, title, tag, box):
    ax.set_xlim(2.2, 197.9)
    ax.set_ylim(-5.1, 39.1)
    ax.set_xticks(x_ticks)
    ax.set_yticks(y_ticks)
    ax.tick_params(direction='in', top=True, right=True, length=10.5, width=0.8, labelsize=17.2, pad=8, color='#444444')
    ax.tick_params(axis='y', pad=4)
    for tick, c in zip(ax.xaxis.get_major_ticks(), x_tick_colors):
        tick.tick1line.set_color(c)
        tick.tick2line.set_color(c)
    for tick, c in zip(ax.yaxis.get_major_ticks(), y_tick_colors):
        tick.tick1line.set_color(c)
        tick.tick2line.set_color(c)
    for side in ['top', 'bottom']:
        ax.spines[side].set_color('black')
        ax.spines[side].set_linewidth(1.0)
    for side in ['left', 'right']:
        ax.spines[side].set_color('#777777')
        ax.spines[side].set_linewidth(0.8)
    ax.set_title(title, fontsize=20.6, pad=14.5)
    ax.set_xlabel('x', fontsize=20, labelpad=5)
    ax.set_ylabel('y', fontsize=17, labelpad=7)
    x0, x1, y0, y1, color = box
    ax.add_patch(Rectangle((x0, y0), x1 - x0, y1 - y0, facecolor=color, edgecolor='none', zorder=8))
    ax.text((x0 + x1) / 2 - 0.3, (y0 + y1) / 2 + 0.45, tag, fontsize=25, ha='center', va='center', zorder=9)


def add_colorbar(fig, top, bottom, norm, ticks, labels):
    cax = fig.add_axes([3296 / W, 1 - bottom / H, 96 / W, (bottom - top) / H])
    cb = fig.colorbar(ScalarMappable(norm=norm, cmap=jet), cax=cax, ticks=ticks)
    cb.ax.set_yticklabels(labels)
    cb.ax.tick_params(direction='in', left=True, right=True, length=4, width=0.7, labelsize=17, pad=5, color='#333333')
    cb.outline.set_linewidth(0.6)


fig = plt.figure(figsize=(W / 200, H / 200), dpi=200)
ax_a = fig.add_axes([159 / W, 1 - 841 / H, (3224 - 159) / W, (841 - 105) / H])
ax_b = fig.add_axes([159 / W, 1 - 1786 / H, (3224 - 159) / W, (1786 - 1051) / H])

# panel (a)
filled = pd.concat([frame(angle0_xy, 0.0), pd.DataFrame(angle_xyv, columns=['x', 'y', 'v'])], ignore_index=True)
everyone = pd.concat([frame(n3_xy, 3), frame(n4_xy, 4), frame(n5_xy, 5), frame(n6_xy, 6), frame(n7_xy, 7)],
                     ignore_index=True)

# the open circles are the particles that have no filled circle on top of them
dist = np.hypot(everyone['x'].values[:, None] - filled['x'].values[None, :],
                everyone['y'].values[:, None] - filled['y'].values[None, :])
open_df = everyone[dist.min(axis=1) > 1.0]

draw_walls(ax_a)
sns.scatterplot(data=open_df, x='x', y='y', facecolor='none', edgecolor='#20208a', linewidth=0.5, s=FREE_S, ax=ax_a,
                zorder=3, clip_on=False)
sns.scatterplot(data=filled, x='x', y='y', hue='v', palette=jet, hue_norm=angle_norm, s=FREE_S, linewidth=0, legend=False,
                ax=ax_a, zorder=4, clip_on=False)
draw_bottom(ax_a)
style_axes(ax_a, 'Colorized by the angle', '(a)', (10.4, 19.7, 25.6, 33, '#e6e6e6'))

# panel (b)
draw_walls(ax_b)
sns.scatterplot(data=everyone, x='x', y='y', hue='v', palette=jet, hue_norm=count_norm, s=FREE_S, linewidth=0, legend=False,
                ax=ax_b, zorder=4, clip_on=False)
draw_bottom(ax_b)
style_axes(ax_b, 'Colorized by number of nearest neighbours', '(b)', (10.2, 18.4, 25, 32.4, '#eeeeee'))

add_colorbar(fig, 107, 841, angle_norm, angle_ticks, ['0', '0.1', '0.2', '0.3', '0.4', '0.5'])
add_colorbar(fig, 1053, 1786, count_norm, count_ticks, ['3', '4', '5', '6', '7'])

fig.savefig('out.png', dpi=200)
